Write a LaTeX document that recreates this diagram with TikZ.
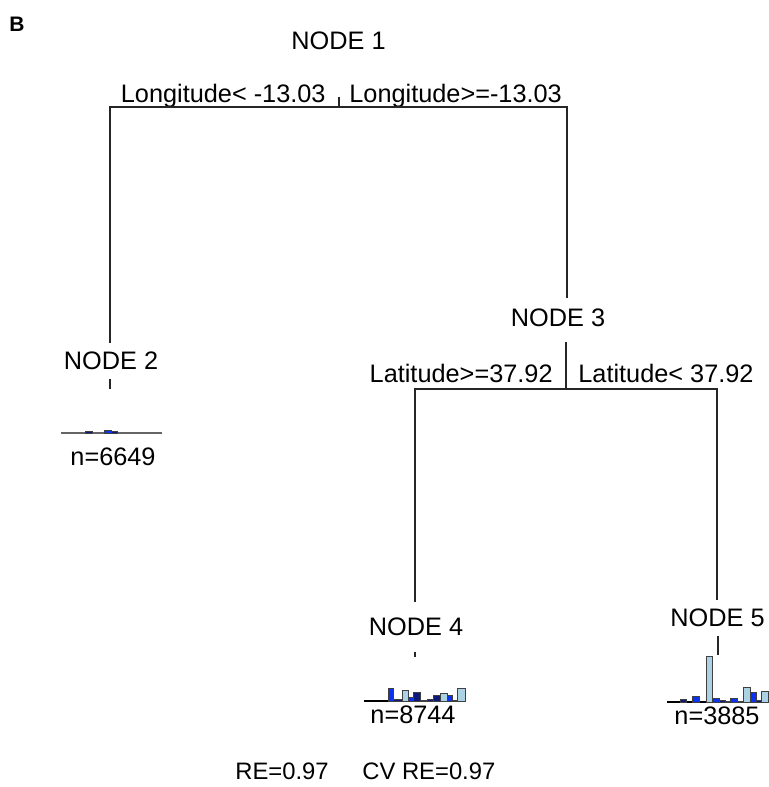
\documentclass[tikz,border=0pt]{standalone}
\usepackage{fontspec}
\setmainfont{Liberation Sans}
\definecolor{barnavy}{RGB}{16,24,120}
\definecolor{barblue}{RGB}{10,50,240}
\definecolor{barlight}{RGB}{170,210,228}
\tikzset{
  treeline/.style={line width=0.65pt, black!85},
  lbl/.style={anchor=base, inner sep=0pt, font=\fontsize{12.65}{15}\selectfont},
  bar/.style={draw=black!75, line width=0.5pt},
}
\begin{document}
\begin{tikzpicture}[x=0.5pt,y=-0.5pt]
    \useasboundingbox (0,0) rectangle (768,787);
    \node[anchor=base west, inner sep=0pt] (tag) at (9,32) {\fontsize{10.5}{12}\selectfont\bfseries B};

    % node labels
    \node[lbl] (n1) at (338.5,49) {NODE 1};
    \node[lbl] (n2) at (111,369) {NODE 2};
    \node[lbl] (n3) at (558,326) {NODE 3};
    \node[lbl] (n4) at (416,635) {NODE 4};
    \node[lbl] (n5) at (717.5,626) {NODE 5};

    % split labels
    \node[lbl, anchor=base east] (l1) at (326,102) {Longitude< -13.03};
    \node[lbl, anchor=base west] (r1) at (349,102) {Longitude>=-13.03};
    \node[lbl, anchor=base east] (l3) at (553,382) {Latitude>=37.92};
    \node[lbl, anchor=base west] (r3) at (578,382) {Latitude< 37.92};

    % branches
    \coordinate (s1) at (339,107);
    \coordinate (s3) at (566,389);
    \coordinate (b2) at (110,343);
    \coordinate (b3) at (567,298);
    \coordinate (b4) at (415,602);
    \coordinate (b5) at (717,600);
    \draw[treeline] (b2) |- (s1) -| (b3);
    \draw[treeline] (s1) -- ++(0,-10);
    \draw[treeline] (b4) |- (s3) -| (b5);
    \draw[treeline] (s3) -- (566,342);

    % ticks above the bars
    \draw[treeline] (110,379) -- (110,389);
    \draw[treeline] (415,652) -- (415,657);
    \draw[treeline] (718,636) -- (718,655);

    % bars, node 2
    \draw[line width=0.65pt, black!60] (61,433) -- (162,433);
    \foreach \a/\b/\h/\c in {85/92/1.5/barnavy, 104/111/2.5/barblue, 111/117/1.5/barnavy}
        \draw[bar, fill=\c] (\a,433) rectangle ++({\b-\a},{-\h});
    \node[lbl] (c2) at (113,465) {n=6649};

    % bars, node 4
    \draw[line width=0.65pt, black] (364,701) -- (465,701);
    \foreach \a/\b/\h/\c in {388/393/13/barblue, 393/402/2/barnavy, 402/408/11/barlight,
        408/413/4/barblue, 413/420/9/barnavy, 420/427/1/barlight, 427/433/2/barnavy,
        433/440/6/barnavy, 440/447/8/barlight, 447/452/6/barblue, 452/457/1/barnavy,
        457/465/13/barlight}
        \draw[bar, fill=\c] (\a,701) rectangle ++({\b-\a},{-\h});
    \node[lbl] (c4) at (413,723) {n=8744};

    % bars, node 5
    \draw[line width=0.65pt, black] (667,702) -- (768,702);
    \foreach \a/\b/\h/\c in {680/686/3/barnavy, 692/699/6/barblue, 706/712/46/barlight,
        712/719/4/barblue, 719/725/2/barnavy, 725/730/1/barlight, 730/737/4/barblue,
        737/743/1/barnavy, 743/750/15/barlight, 750/756/10/barblue, 756/761/2/barnavy,
        761/768/11/barlight}
        \draw[bar, fill=\c] (\a,702) rectangle ++({\b-\a},{-\h});
    \node[lbl] (c5) at (717,724) {n=3885};

    % error
    \node[lbl, anchor=base west, font=\fontsize{11.9}{14}\selectfont] (re) at (235,779) {RE=0.97};
    \node[lbl, anchor=base west, font=\fontsize{11.9}{14}\selectfont] (cvre) at (362,779) {CV RE=0.97};
\end{tikzpicture}
\end{document}
